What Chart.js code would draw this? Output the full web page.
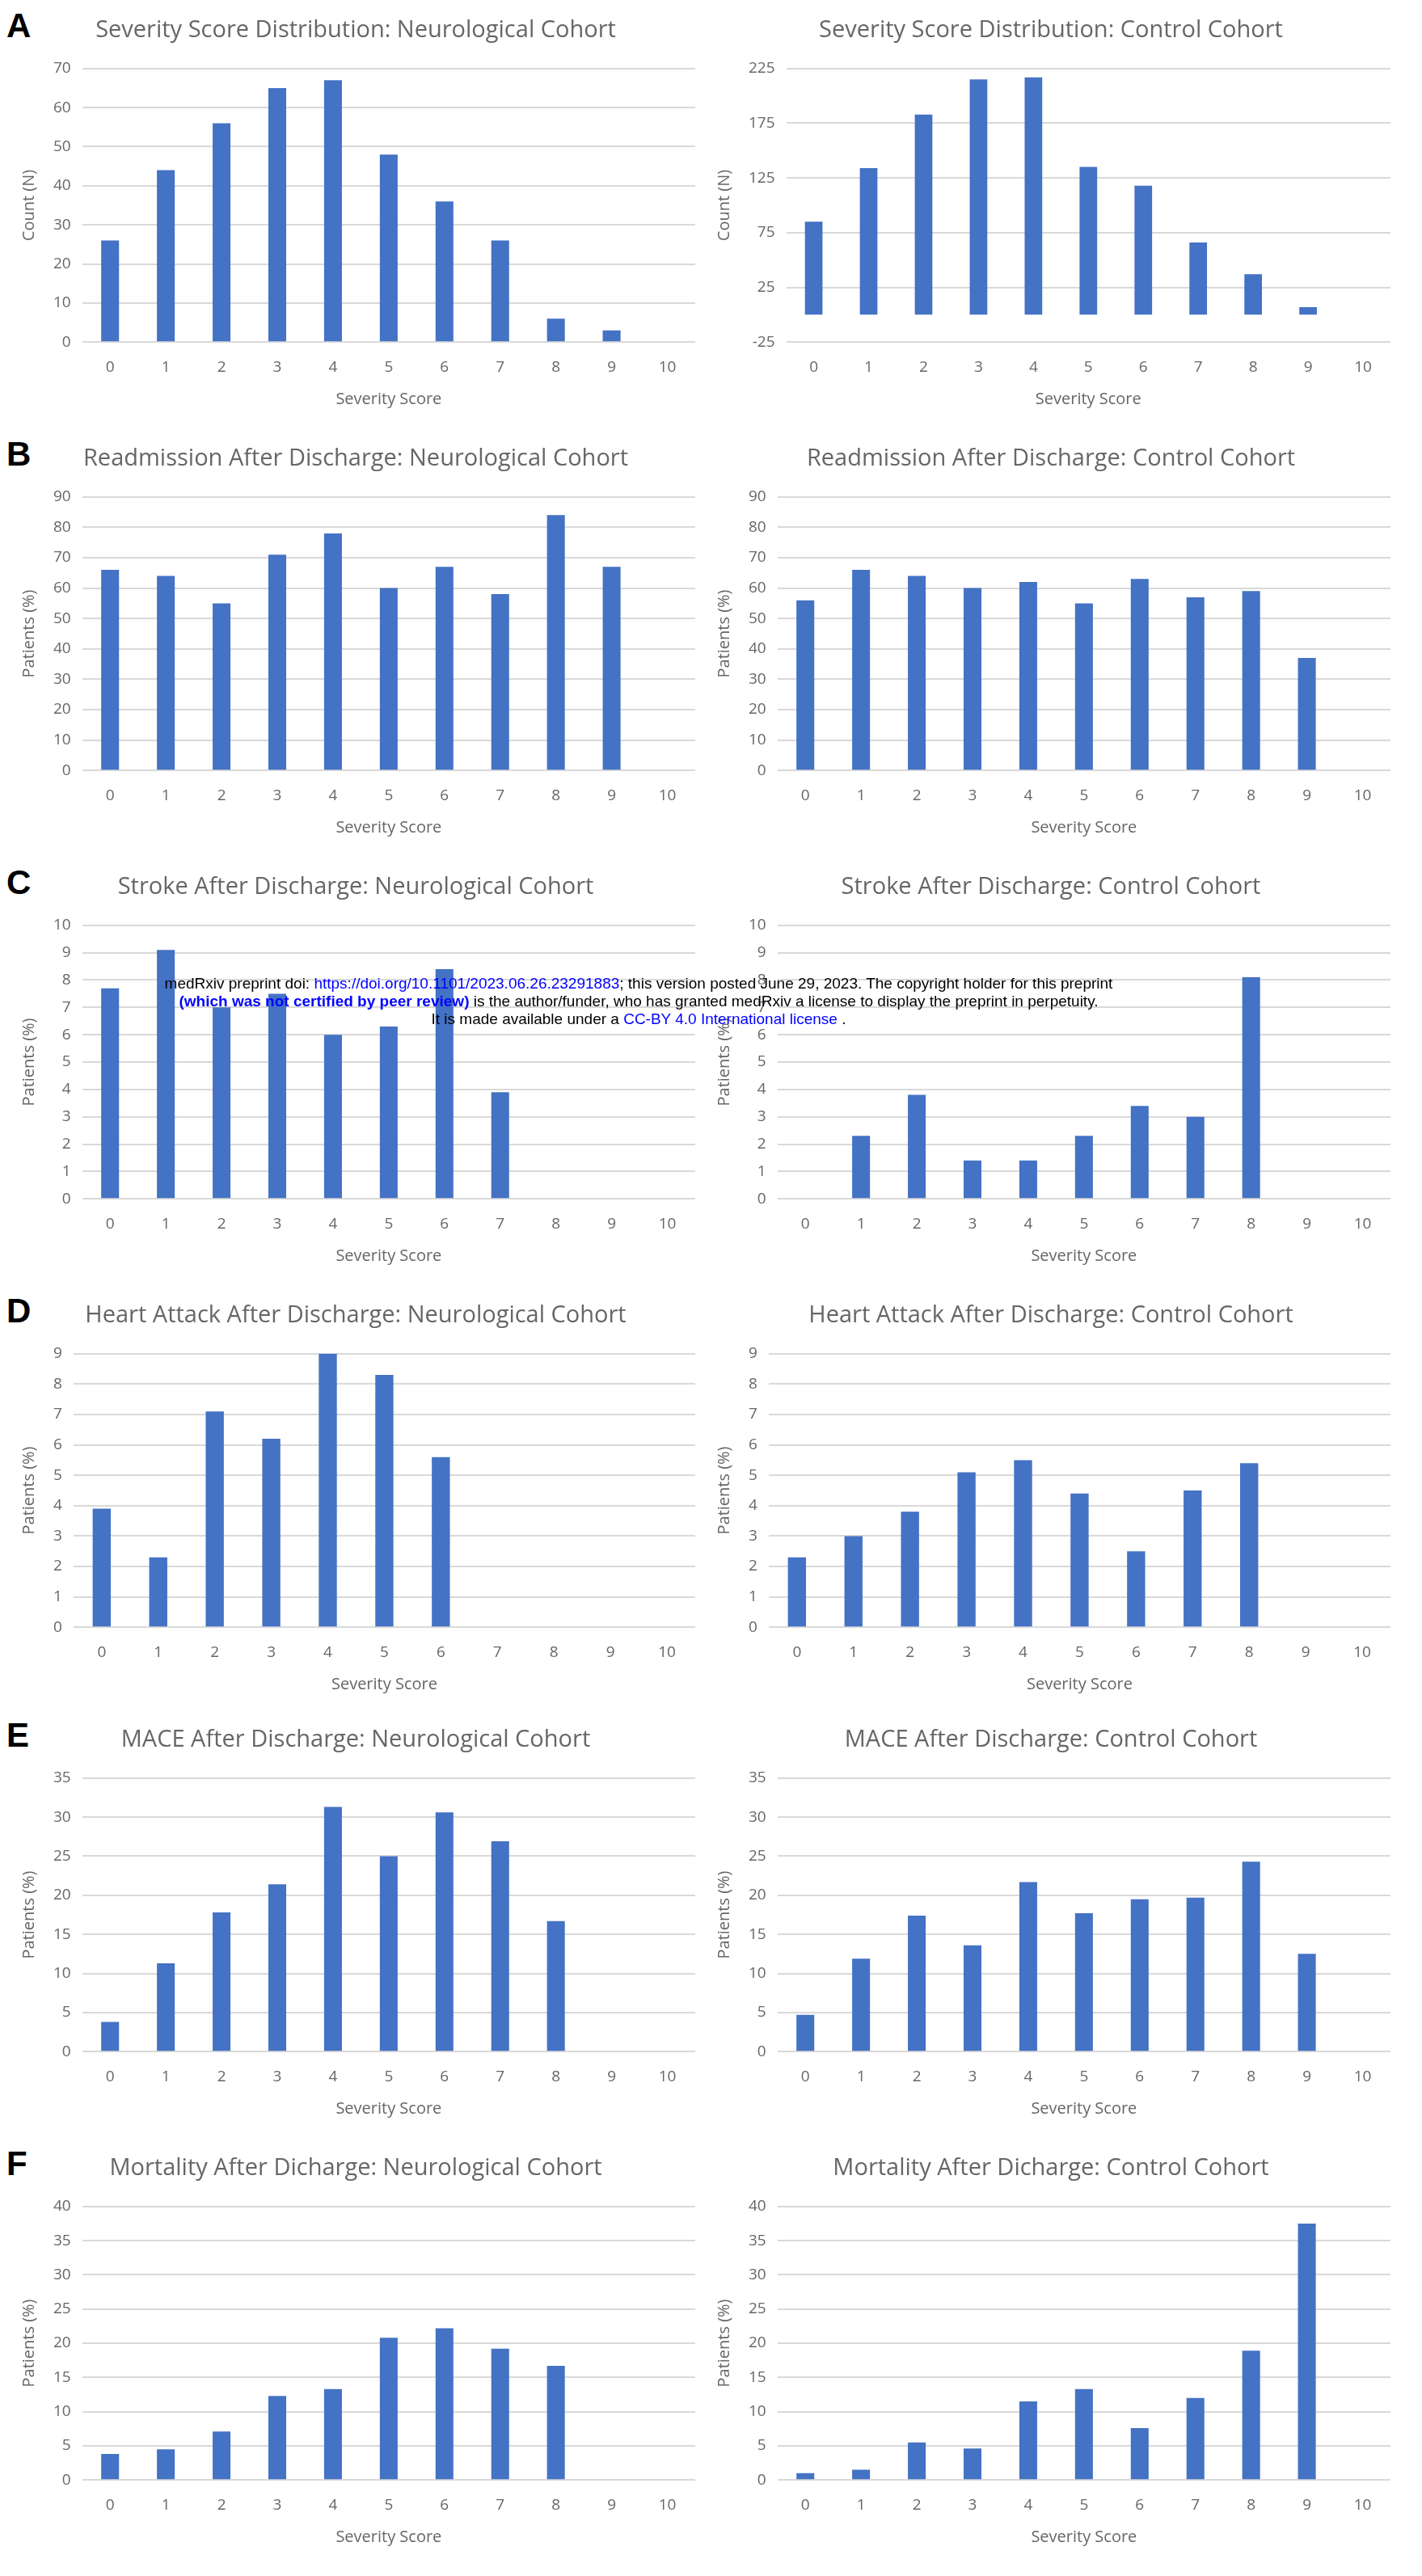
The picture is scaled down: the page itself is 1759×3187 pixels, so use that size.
<!DOCTYPE html>
<html><head><meta charset="utf-8">
<script src="https://cdn.jsdelivr.net/npm/chart.js@4"></script>
<style>
body{margin:0;background:#fff;width:1759px;height:3187px;position:relative;overflow:hidden;font-family:"Open Sans",sans-serif}
.p{position:absolute;width:860px;height:510px}
.l{position:absolute;left:8px;font:bold 42px "Liberation Sans",Arial;color:#000}
#wm{position:absolute;z-index:10;left:0;width:1580px;top:1206px;text-align:center;font:19px "Liberation Sans",Arial;line-height:22px;color:#000}
#wm a{color:#00f;text-decoration:none}
</style></head><body>
<div id="wm">medRxiv preprint doi: <a>https://doi.org/10.1101/2023.06.26.23291883</a>; this version posted June 29, 2023. The copyright holder for this preprint<br><b style="color:#00f">(which was not certified by peer review)</b> is the author/funder, who has granted medRxiv a license to display the preprint in perpetuity.<br>It is made available under a <a>CC-BY 4.0 International license</a> .</div>
<script>
const categories=["0","1","2","3","4","5","6","7","8","9","10"];
const distNeuro=[26,44,56,65,67,48,36,26,6,3,0];
const distControl=[85,134,183,215,217,135,118,66,37,7,0];
const readmNeuro=[66,64,55,71,78,60,67,58,84,67,0];
const readmControl=[56,66,64,60,62,55,63,57,59,37,0];
const strokeNeuro=[7.7,9.1,7.0,7.5,6.0,6.3,8.4,3.9,0,0,0];
const strokeControl=[0,2.3,3.8,1.4,1.4,2.3,3.4,3.0,8.1,0,0];
const heartNeuro=[3.9,2.3,7.1,6.2,9.0,8.3,5.6,0,0,0,0];
const heartControl=[2.3,3.0,3.8,5.1,5.5,4.4,2.5,4.5,5.4,0,0];
const maceNeuro=[3.8,11.3,17.8,21.4,31.3,25.0,30.6,26.9,16.7,0,0];
const maceControl=[4.7,11.9,17.4,13.6,21.7,17.7,19.5,19.7,24.3,12.5,0];
const mortNeuro=[3.8,4.5,7.1,12.3,13.3,20.8,22.2,19.2,16.7,0,0];
const mortControl=[1.0,1.5,5.5,4.6,11.5,13.3,7.6,12.0,18.9,37.5,0];
const letters=["A","B","C","D","E","F"];
const rowTops=[0,530,1060,1590,2115,2645];
const panels=[
 ["Severity Score Distribution: Neurological Cohort",distNeuro,"Count (N)",0,70,10],
 ["Severity Score Distribution: Control Cohort",distControl,"Count (N)",-25,225,50],
 ["Readmission After Discharge: Neurological Cohort",readmNeuro,"Patients (%)",0,90,10],
 ["Readmission After Discharge: Control Cohort",readmControl,"Patients (%)",0,90,10],
 ["Stroke After Discharge: Neurological Cohort",strokeNeuro,"Patients (%)",0,10,1],
 ["Stroke After Discharge: Control Cohort",strokeControl,"Patients (%)",0,10,1],
 ["Heart Attack After Discharge: Neurological Cohort",heartNeuro,"Patients (%)",0,9,1],
 ["Heart Attack After Discharge: Control Cohort",heartControl,"Patients (%)",0,9,1],
 ["MACE After Discharge: Neurological Cohort",maceNeuro,"Patients (%)",0,35,5],
 ["MACE After Discharge: Control Cohort",maceControl,"Patients (%)",0,35,5],
 ["Mortality After Dicharge: Neurological Cohort",mortNeuro,"Patients (%)",0,40,5],
 ["Mortality After Dicharge: Control Cohort",mortControl,"Patients (%)",0,40,5]
];
const gray="#666666";
Chart.defaults.font.family="Open Sans";
panels.forEach((p,i)=>{
 const row=Math.floor(i/2), col=i%2;
 if(col===0){const l=document.createElement("div");l.className="l";l.style.top=(rowTops[row]+8)+"px";l.textContent=letters[row];document.body.appendChild(l);}
 const d=document.createElement("div");d.className="p";
 d.style.left=(col?880:20)+"px";d.style.top=rowTops[row]+"px";
 const c=document.createElement("canvas");d.appendChild(c);document.body.appendChild(d);
 new Chart(c,{type:"bar",data:{labels:categories,datasets:[{data:p[1],backgroundColor:"#4472C4",barPercentage:0.32,categoryPercentage:1}]},
 options:{responsive:true,maintainAspectRatio:false,animation:false,
  layout:{padding:{left:0,right:20,top:10,bottom:0}},
  plugins:{legend:{display:false},tooltip:{enabled:false},
   title:{display:true,text:p[0],color:gray,font:{size:29,weight:"normal"},padding:{top:10,bottom:30}}},
  scales:{x:{grid:{display:false},border:{display:false},ticks:{color:gray,font:{size:19},padding:12},
    title:{display:true,text:"Severity Score",color:gray,font:{size:20}}},
   y:{min:p[3],max:p[4],ticks:{stepSize:p[5],color:gray,font:{size:19},padding:14},
    grid:{color:"#d9d9d9",lineWidth:2,drawTicks:false},border:{display:false},
    title:{display:true,text:p[2],color:gray,font:{size:20}}}}}});
});
</script></body></html>
